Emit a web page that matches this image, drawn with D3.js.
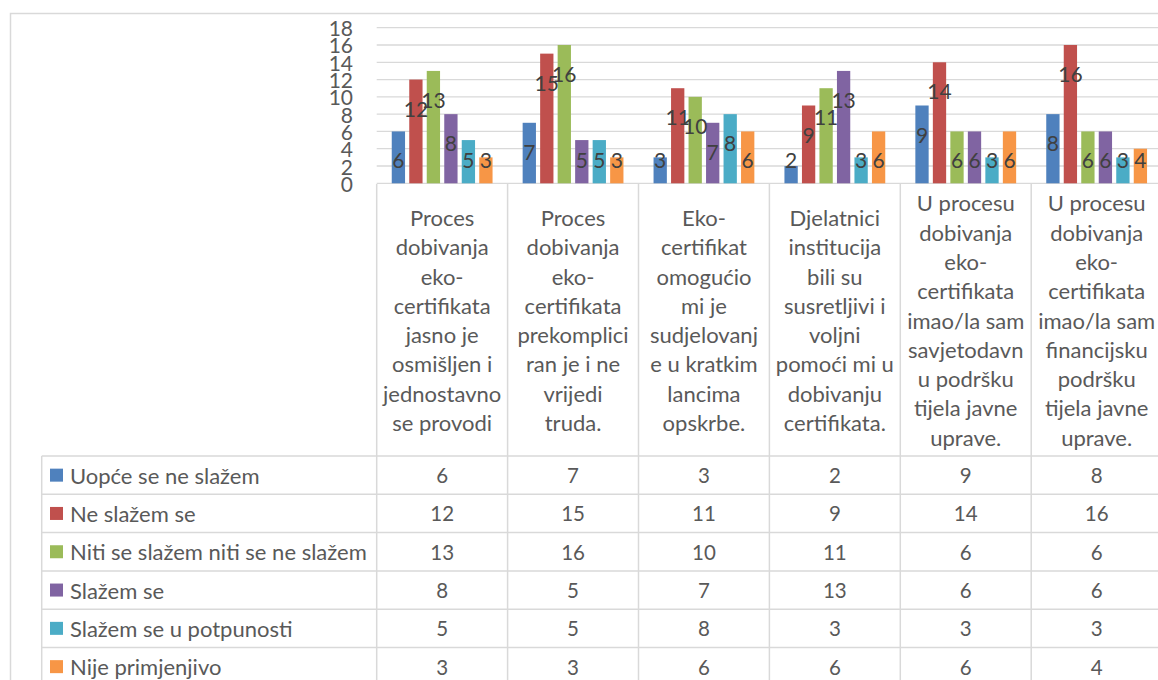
<!DOCTYPE html>
<html>
<head>
<meta charset="utf-8">
<script src="https://cdn.jsdelivr.net/npm/d3@7"></script>
<style>
  body { margin: 0; background: #fff; }
  svg { display: block; font-family: Lato, "Open Sans", sans-serif; }
</style>
</head>
<body>
<svg id="chart" width="1158" height="680"></svg>
<script>
// data
var categories = [
  ["Proces", "dobivanja", "eko-", "certifikata", "jasno je", "osmišljen i", "jednostavno", "se provodi"],
  ["Proces", "dobivanja", "eko-", "certifikata", "prekomplici", "ran je i ne", "vrijedi", "truda."],
  ["Eko-", "certifikat", "omogućio", "mi je", "sudjelovanj", "e u kratkim", "lancima", "opskrbe."],
  ["Djelatnici", "institucija", "bili su", "susretljivi i", "voljni", "pomoći mi u", "dobivanju", "certifikata."],
  ["U procesu", "dobivanja", "eko-", "certifikata", "imao/la sam", "savjetodavn", "u podršku", "tijela javne", "uprave."],
  ["U procesu", "dobivanja", "eko-", "certifikata", "imao/la sam", "financijsku", "podršku", "tijela javne", "uprave."]
];
var seriesNames = ["Uopće se ne slažem", "Ne slažem se", "Niti se slažem niti se ne slažem",
                   "Slažem se", "Slažem se u potpunosti", "Nije primjenjivo"];
var uopce   = [6, 7, 3, 2, 9, 8];
var ne      = [12, 15, 11, 9, 14, 16];
var niti    = [13, 16, 10, 11, 6, 6];
var slazem  = [8, 5, 7, 13, 6, 6];
var potpuno = [5, 5, 8, 3, 3, 3];
var nije    = [3, 3, 6, 6, 6, 4];
var yTicks = [0, 2, 4, 6, 8, 10, 12, 14, 16, 18];

var seriesValues = [uopce, ne, niti, slazem, potpuno, nije];
var colors = ["#4f81bd", "#c0504d", "#9bbb59", "#8064a2", "#4bacc6", "#f79646"];
var gridColor = "#d9d9d9";
var textColor = "#595959";

var svg = d3.select("#chart");

var plotLeft = 376.7, bandW = 130.9;
var plotRight = plotLeft + bandW * categories.length;
var y0 = 183.3, yTop = 27.7;

var x = d3.scaleBand().domain(d3.range(categories.length)).range([plotLeft, plotRight]).padding(0);
var xs = d3.scaleBand().domain(d3.range(seriesNames.length)).range([0, x.bandwidth()])
  .paddingInner(0.24).paddingOuter(0.86);
var y = d3.scaleLinear().domain([0, 18]).range([y0, yTop]);

// outer chart border
svg.append("path")
  .attr("d", "M10.5,690 L10.5,13.5 L1170,13.5")
  .attr("fill", "none").attr("stroke", gridColor).attr("stroke-width", 1.5);

// gridlines
svg.append("g").selectAll("line").data(yTicks).join("line")
  .attr("x1", plotLeft).attr("x2", plotRight)
  .attr("y1", function(d) { return y(d); }).attr("y2", function(d) { return y(d); })
  .attr("stroke", gridColor).attr("stroke-width", 1.3);

// y axis labels (they crowd each other, as in the original)
svg.append("g").selectAll("text").data(yTicks).join("text")
  .attr("x", 353).attr("y", function(d) { return y(d); })
  .attr("text-anchor", "end").attr("dominant-baseline", "central")
  .attr("font-size", 21).attr("fill", textColor)
  .text(function(d) { return d; });

// bars
var groups = svg.append("g").selectAll("g").data(categories).join("g")
  .attr("transform", function(d, i) { return "translate(" + x(i) + ",0)"; });

groups.each(function(c, ci) {
  var g = d3.select(this);
  var vals = seriesValues.map(function(s) { return s[ci]; });
  g.selectAll("rect").data(vals).join("rect")
    .attr("x", function(d, si) { return xs(si); })
    .attr("width", xs.bandwidth())
    .attr("y", function(d) { return y(d); })
    .attr("height", function(d) { return y0 - y(d); })
    .attr("fill", function(d, si) { return colors[si]; });
  g.selectAll("text").data(vals).join("text")
    .attr("x", function(d, si) { return xs(si) + xs.bandwidth() / 2; })
    .attr("y", function(d) { return Math.min(y(d) + 28.5, y0 - 23.5); })
    .attr("text-anchor", "middle").attr("dominant-baseline", "central")
    .attr("font-size", 21).attr("fill", "#404040")
    .text(function(d) { return d; });
});

// data table
var tableTop = 456, rowH = 38.3, tableLeft = 41.7;
var catTop = 184, catMid = 320, lineH = 29.3;

// vertical lines
var vx = d3.range(categories.length + 1).map(function(i) { return plotLeft + i * bandW; });
svg.append("g").selectAll("line").data(vx).join("line")
  .attr("x1", function(d) { return d; }).attr("x2", function(d) { return d; })
  .attr("y1", catTop).attr("y2", 690)
  .attr("stroke", gridColor).attr("stroke-width", 1.5);
svg.append("line")
  .attr("x1", tableLeft).attr("x2", tableLeft).attr("y1", tableTop).attr("y2", 690)
  .attr("stroke", gridColor).attr("stroke-width", 1.5);

// horizontal lines
svg.append("g").selectAll("line").data(d3.range(seriesNames.length + 1)).join("line")
  .attr("x1", tableLeft).attr("x2", plotRight)
  .attr("y1", function(i) { return tableTop + i * rowH; })
  .attr("y2", function(i) { return tableTop + i * rowH; })
  .attr("stroke", gridColor).attr("stroke-width", 1.5);

// category labels
categories.forEach(function(lines, ci) {
  var cx = x(ci) + bandW / 2;
  var startY = catMid - (lines.length - 1) * lineH / 2;
  svg.append("g").selectAll("text").data(lines).join("text")
    .attr("x", cx).attr("y", function(d, li) { return startY + li * lineH; })
    .attr("text-anchor", "middle").attr("dominant-baseline", "central")
    .attr("font-size", 22).attr("fill", textColor)
    .text(function(d) { return d; });
});

// legend rows and values
seriesNames.forEach(function(name, si) {
  var cy = tableTop + si * rowH + rowH / 2;
  svg.append("rect").attr("x", 50).attr("y", cy - 6.5).attr("width", 13).attr("height", 13)
    .attr("fill", colors[si]);
  svg.append("text").attr("x", 70).attr("y", cy)
    .attr("dominant-baseline", "central").attr("font-size", 22).attr("fill", textColor)
    .text(name);
  svg.append("g").selectAll("text").data(seriesValues[si]).join("text")
    .attr("x", function(d, ci) { return x(ci) + bandW / 2; })
    .attr("y", cy)
    .attr("text-anchor", "middle").attr("dominant-baseline", "central")
    .attr("font-size", 20.5).attr("fill", textColor)
    .text(function(d) { return d; });
});
</script>
</body>
</html>
